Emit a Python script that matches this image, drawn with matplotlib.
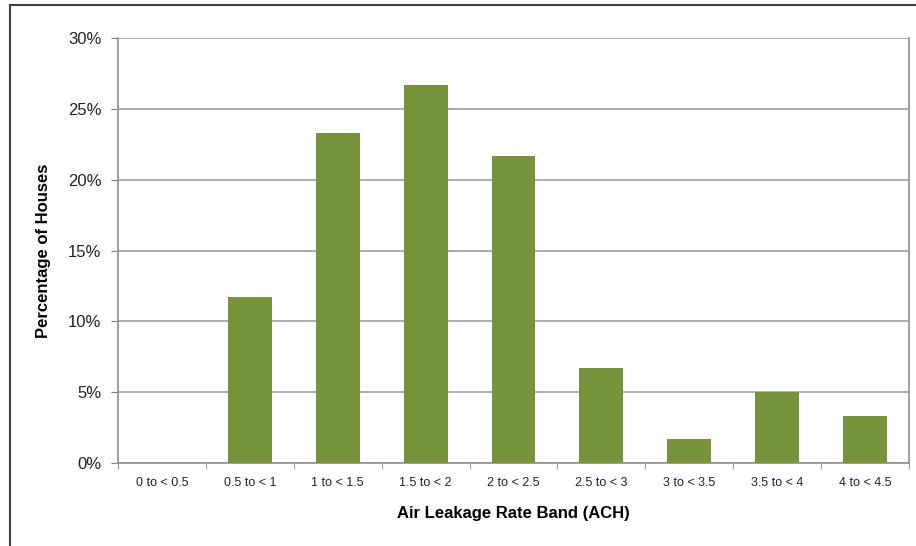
import numpy as np
import matplotlib.pyplot as plt
from matplotlib.lines import Line2D
from matplotlib.ticker import FuncFormatter

# Air leakage bands and share of houses (%)
bands = ["0 to < 0.5", "0.5 to < 1", "1 to < 1.5", "1.5 to < 2", "2 to < 2.5",
         "2.5 to < 3", "3 to < 3.5", "3.5 to < 4", "4 to < 4.5"]
pct = [0.0, 11.7, 23.3, 26.7, 21.7, 6.7, 1.7, 5.0, 3.3]

plt.rcParams['font.family'] = ['Liberation Sans', 'DejaVu Sans']

fig = plt.figure(figsize=(9.16, 5.46), dpi=100)
ax = fig.add_axes([0.1288, 0.152, 0.8636, 0.778])

x = np.arange(len(bands))
ax.bar(x, pct, width=0.5, color="#77933C", zorder=3)

ax.set_xlim(-0.5, len(bands) - 0.5)
ax.set_ylim(0, 30)
ax.set_yticks(np.arange(0, 31, 5))
ax.yaxis.set_major_formatter(FuncFormatter(lambda v, p: "%d%%" % v))
ax.set_xticks(x)
ax.set_xticklabels(bands, fontsize=9, color="#222222")
ax.set_xticks(np.arange(-0.5, len(bands)), minor=True)
ax.tick_params(axis='x', which='major', length=0, pad=10)
ax.tick_params(axis='x', which='minor', length=4, color="#808080")
ax.tick_params(axis='y', length=5, pad=7, color="#808080", labelsize=12, labelcolor="#222222")

ax.grid(axis='y', color="#a0a0a0", linewidth=1.2, zorder=0)
for s in ['left', 'bottom', 'right']:
    ax.spines[s].set_color("#909090")
    ax.spines[s].set_linewidth(1.2)
ax.spines['top'].set_visible(False)

ax.set_xlabel("Air Leakage Rate Band (ACH)", fontsize=12, fontweight='bold', labelpad=12)
ax.set_ylabel("Percentage of Houses", fontsize=12, fontweight='bold', labelpad=12)

# outer frame (left and top edges)
fig.add_artist(Line2D([0.011, 0.011], [0, 0.991], color="#404040", linewidth=1.5))
fig.add_artist(Line2D([0.011, 1.0], [0.991, 0.991], color="#404040", linewidth=1.5))

fig.savefig("out.png", dpi=100)
